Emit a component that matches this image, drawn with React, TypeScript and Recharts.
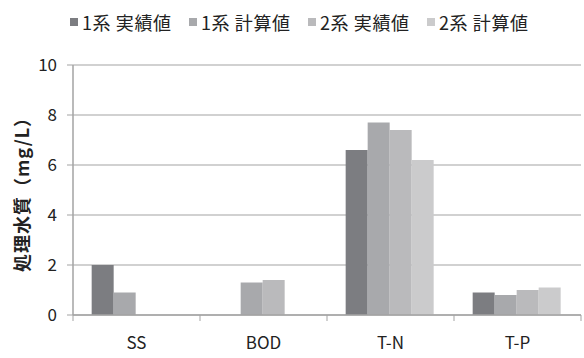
import React from 'react';
import { BarChart, Bar, XAxis, YAxis, CartesianGrid, Legend, Label } from 'recharts';

// 処理水質の項目と各系列の値 (mg/L)
const categories = ['SS', 'BOD', 'T-N', 'T-P'];
const line1Actual: (number | null)[] = [2.0, null, 6.6, 0.9];
const line1Calc: (number | null)[] = [0.9, 1.3, 7.7, 0.8];
const line2Actual: (number | null)[] = [null, 1.4, 7.4, 1.0];
const line2Calc: (number | null)[] = [null, null, 6.2, 1.1];
const yTicks = [0, 2, 4, 6, 8, 10];

const seriesNames = ['1系 実績値', '1系 計算値', '2系 実績値', '2系 計算値'];
const seriesColors = ['#7c7d81', '#a8a9ac', '#bababc', '#cbcbcc'];

const data = categories.map((name, i) => ({
  name,
  s0: line1Actual[i],
  s1: line1Calc[i],
  s2: line2Actual[i],
  s3: line2Calc[i],
}));

const FONT = '"Noto Sans CJK JP", "Noto Sans", sans-serif';
const AXIS_GRAY = '#a3a3a3';

// category label plus tick marks on the band edges
const renderCategoryTick = (props: any) => {
  const { x, y, payload, index, visibleTicksCount } = props;
  const half = payload && typeof payload.offset === 'number' ? payload.offset : 0;
  const isLast = index === visibleTicksCount - 1;
  return (
    <g key={`tick-${index}`}>
      {half > 0 && (
        <line x1={x - half} y1={y} x2={x - half} y2={y + 6} stroke={AXIS_GRAY} strokeWidth={1} />
      )}
      {half > 0 && isLast && (
        <line x1={x + half} y1={y} x2={x + half} y2={y + 6} stroke={AXIS_GRAY} strokeWidth={1} />
      )}
      <text
        x={x}
        y={y + 28}
        dy="0.36em"
        textAnchor="middle"
        fill="#222"
        fontSize={17}
        fontFamily={FONT}
      >
        {payload.value}
      </text>
    </g>
  );
};

const LegendRow = () => (
  <div
    style={{
      position: 'relative',
      height: 28,
      fontFamily: FONT,
      fontSize: 18,
      letterSpacing: 0.6,
      color: '#222',
    }}
  >
    {seriesNames.map((name, i) => (
      <div
        key={name}
        style={{
          position: 'absolute',
          left: 70 + i * 119,
          top: 0,
          display: 'flex',
          alignItems: 'center',
          height: 28,
          whiteSpace: 'nowrap',
        }}
      >
        <span style={{ display: 'inline-block', width: 8, height: 8, background: seriesColors[i], marginRight: 4 }} />
        <span>{name}</span>
      </div>
    ))}
  </div>
);

export default function App() {
  return (
    <div style={{ position: 'absolute', left: 0, top: 0, width: 584, height: 358, background: '#fff' }}>
      <BarChart
        width={584}
        height={358}
        data={data}
        margin={{ top: 65, right: 3, left: 33, bottom: 13 }}
        barCategoryGap="14.7%"
        barGap={0}
      >
        <CartesianGrid vertical={false} stroke={AXIS_GRAY} strokeWidth={1} />
        <XAxis
          dataKey="name"
          height={30}
          axisLine={{ stroke: AXIS_GRAY, strokeWidth: 1.5 }}
          tickLine={false}
          tickSize={0}
          tickMargin={0}
          tick={renderCategoryTick}
          interval={0}
        />
        <YAxis
          width={40}
          domain={[0, 10]}
          ticks={yTicks}
          axisLine={{ stroke: AXIS_GRAY, strokeWidth: 1.5 }}
          tickLine={{ stroke: AXIS_GRAY }}
          tickSize={6}
          tickMargin={10}
          tick={{ fill: '#222', fontSize: 17, fontFamily: FONT }}
        >
          <Label
            content={(p: any) => {
              const vb = p.viewBox || { x: 33, y: 65, height: 250 };
              const cx = vb.x - 10;
              const cy = vb.y + vb.height / 2;
              return (
                <text
                  x={cx}
                  y={cy}
                  transform={`rotate(-90, ${cx}, ${cy})`}
                  textAnchor="middle"
                  dy="0.36em"
                  fill="#222"
                  fontSize={18}
                  letterSpacing={1}
                  fontWeight="bold"
                  fontFamily={FONT}
                >
                  処理水質（mg/L）
                </text>
              );
            }}
          />
        </YAxis>
        <Legend
          layout="horizontal"
          verticalAlign="middle"
          align="center"
          wrapperStyle={{ top: 8, left: 0, width: 584 }}
          content={() => <LegendRow />}
        />
        {seriesNames.map((name, i) => (
          <Bar
            key={name}
            dataKey={`s${i}`}
            name={name}
            fill={seriesColors[i]}
            isAnimationActive={false}
          />
        ))}
      </BarChart>
    </div>
  );
}
